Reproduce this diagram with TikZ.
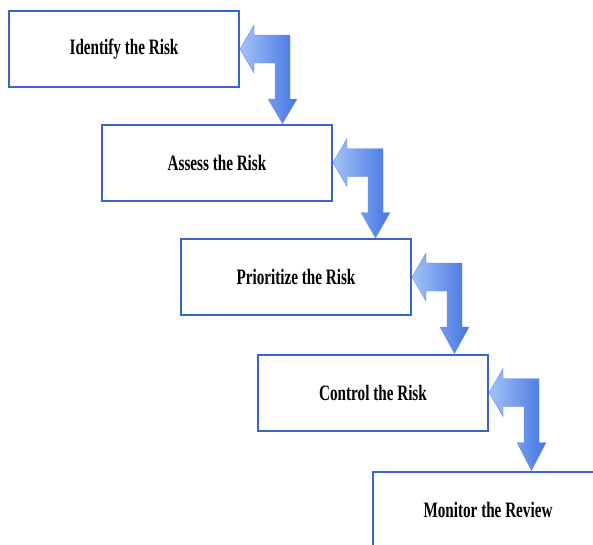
\documentclass[tikz,border=0pt]{standalone}
\usepackage{fontspec}
\setmainfont{Liberation Serif}[FakeStretch=0.69]
\usetikzlibrary{calc}

\definecolor{boxblue}{RGB}{58,100,206}
\definecolor{arrowlight}{RGB}{162,194,247}
\definecolor{arrowdark}{RGB}{68,116,226}

% bent arrow from the right side of one step down onto the next one
\newcommand{\bentarrow}[2]{%
    \coordinate (#1tip) at ($(#1.east)+(42.5,0)$);
    \shade[left color=arrowlight, right color=arrowdark, draw=arrowdark!80, line width=0.3pt]
        (#1.east) -- ++(14,-24) -- ++(0,10) -- ++(36,0) -- ++(0,64) -- ++(7,0)
        -- (#1tip |- #2.north) -- ($(#1.east)+(28,50)$) -- ++(7,0) -- ++(0,-36)
        -- ++(-21,0) -- ++(0,10) -- cycle;
}

\begin{document}
\begin{tikzpicture}[x=0.75pt, y=-0.75pt,
    stepbox/.style={draw=boxblue, line width=1.5pt, fill=white,
        minimum width=172.5pt, minimum height=57pt,
        font=\fontsize{16.5}{18}\selectfont\bfseries}]
    \useasboundingbox (0,0) rectangle (593,544);
    \node[stepbox] (identify) at (124,49) {Identify the Risk};
    \node[stepbox] (assess) at (217,162.5) {Assess the Risk};
    \node[stepbox] (prioritize) at (296,277) {Prioritize the Risk};
    \node[stepbox] (control) at (373,392.5) {Control the Risk};
    \node[stepbox] (monitor) at (488,509.5) {Monitor the Review};
    \bentarrow{identify}{assess}
    \bentarrow{assess}{prioritize}
    \bentarrow{prioritize}{control}
    \bentarrow{control}{monitor}
\end{tikzpicture}
\end{document}
